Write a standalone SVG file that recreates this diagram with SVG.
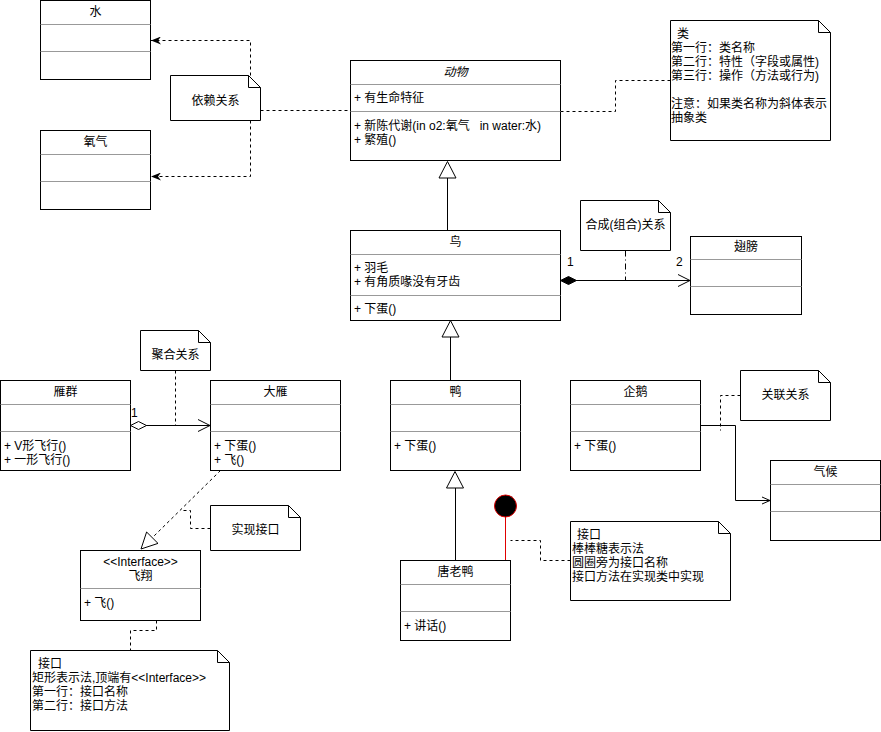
<svg xmlns="http://www.w3.org/2000/svg" width="881" height="732" viewBox="0 0 881 732">
<defs>
<style>
text{font-family:"Liberation Sans","Noto Sans CJK SC",sans-serif;font-size:12px;fill:#000}
.c{text-anchor:middle}
.box{fill:#fff;stroke:#000;stroke-width:1}
.div{stroke:#999;stroke-width:1;fill:none}
.note{fill:#fff;stroke:#000;stroke-width:1}
.fold{fill:none;stroke:#000;stroke-width:1}
.dash{fill:none;stroke:#000;stroke-width:1;stroke-dasharray:3 3}
.solid{fill:none;stroke:#000;stroke-width:1}
.tri{fill:#fff;stroke:#000;stroke-width:1}
</style>
<marker id="dep" viewBox="0 0 10 8" refX="10" refY="4" markerWidth="10" markerHeight="8" markerUnits="userSpaceOnUse" orient="auto">
<path d="M0,0 L10,4 L0,8 L3,4 Z" fill="#000"/>
</marker>
<marker id="open" viewBox="0 0 14 14" refX="13" refY="7" markerWidth="14" markerHeight="14" markerUnits="userSpaceOnUse" orient="auto">
<path d="M1,1 L13,7 L1,13" fill="none" stroke="#000" stroke-width="1"/>
</marker>
<marker id="openS" viewBox="0 0 10 10" refX="9" refY="5" markerWidth="10" markerHeight="10" markerUnits="userSpaceOnUse" orient="auto">
<path d="M1,1.5 L9,5 L1,8.5" fill="none" stroke="#000" stroke-width="1"/>
</marker>
</defs>

<g id="connectors">
<polyline class="dash" points="260.5,110.5 350.5,110.5"/>
<polyline class="dash" points="250.5,75.5 250.5,40.5 151,40.5" marker-end="url(#dep)"/>
<polyline class="dash" points="250.5,120.5 250.5,176.5 151,176.5" marker-end="url(#dep)"/>
<polyline class="dash" points="560.5,111.5 615.5,111.5 615.5,80.5 670.5,80.5"/>
<line class="solid" x1="447.5" y1="230.5" x2="447.5" y2="178"/>
<path class="tri" d="M447.5,161.5 L456,178 L439,178 Z"/>
<line class="solid" x1="576" y1="280.5" x2="690" y2="280.5" marker-end="url(#open)"/>
<path d="M560.5,280.5 L568.5,276.5 L576.5,280.5 L568.5,284.5 Z" fill="#000" stroke="#000"/>
<text x="567" y="266">1</text>
<text x="676" y="266">2</text>
<line class="solid" x1="625.5" y1="250.5" x2="625.5" y2="280.5" stroke-dasharray="6 3 1 3"/>
<line class="solid" x1="450.5" y1="380.5" x2="450.5" y2="337"/>
<path class="tri" d="M450.5,320.5 L459,337 L442,337 Z"/>
<line class="solid" x1="146" y1="425.5" x2="210" y2="425.5" marker-end="url(#open)"/>
<path d="M130.5,425.5 L138.5,421.5 L146.5,425.5 L138.5,429.5 Z" fill="#fff" stroke="#000"/>
<text x="131" y="417">1</text>
<line class="dash" x1="175.5" y1="370.5" x2="175.5" y2="425.5"/>
<polyline class="solid" points="700.5,425.5 735.5,425.5 735.5,500.5 770,500.5" marker-end="url(#openS)"/>
<polyline class="dash" points="740.5,395.5 720.5,395.5 720.5,430.5"/>
<line class="dash" x1="220.5" y1="470.5" x2="152.5" y2="537.5"/>
<path class="tri" d="M141,549 L146.6,532 L158,543.4 Z"/>
<polyline class="dash" points="210.5,528.5 190.5,528.5 190.5,510.5 180.5,510.5"/>
<polyline class="dash" points="156.5,620.5 156.5,630.5 130.5,630.5 130.5,650.5"/>
<line class="solid" x1="455.5" y1="560.5" x2="455.5" y2="488"/>
<path class="tri" d="M455,471.5 L463.5,488 L446.5,488 Z"/>
<line x1="505.5" y1="517" x2="505.5" y2="560.5" stroke="#e00000" stroke-width="1"/>
<polyline class="dash" points="570.5,560.5 540.5,560.5 540.5,540.5 510.5,540.5"/>
</g>

<g id="water">
<rect class="box" x="40.5" y="0.5" width="110" height="79"/>
<line class="div" x1="40.5" y1="24.5" x2="150.5" y2="24.5"/>
<line class="div" x1="40.5" y1="51.5" x2="150.5" y2="51.5"/>
<text class="c" x="95.5" y="16">水</text>
</g>

<g id="oxygen">
<rect class="box" x="40.5" y="130.5" width="110" height="79"/>
<line class="div" x1="40.5" y1="154.5" x2="150.5" y2="154.5"/>
<line class="div" x1="40.5" y1="181.5" x2="150.5" y2="181.5"/>
<text class="c" x="95.5" y="146">氧气</text>
</g>

<g id="note-dependency">
<path class="note" d="M170.5,75.5 H248.5 L260.5,87.5 V120.5 H170.5 Z"/>
<path class="fold" d="M248.5,75.5 V87.5 H260.5"/>
<text class="c" x="215.5" y="105">依赖关系</text>
</g>

<g id="animal">
<rect class="box" x="350.5" y="60.5" width="210" height="100"/>
<line class="div" x1="350.5" y1="84.5" x2="560.5" y2="84.5"/>
<line class="div" x1="350.5" y1="111.5" x2="560.5" y2="111.5"/>
<text class="c" x="455.5" y="76" font-style="italic">动物</text>
<text x="354" y="102">+ 有生命特征</text>
<text x="354" y="130" xml:space="preserve">+ 新陈代谢(in o2:氧气   in water:水)</text>
<text x="354" y="144">+ 繁殖()</text>
</g>

<g id="note-class">
<path class="note" d="M670.5,20.5 H818.5 L830.5,32.5 V140.5 H670.5 Z"/>
<path class="fold" d="M818.5,20.5 V32.5 H830.5"/>
<text x="677" y="38">类</text>
<text x="671" y="52">第一行：类名称</text>
<text x="671" y="66">第二行：特性（字段或属性)</text>
<text x="671" y="80">第三行：操作（方法或行为)</text>
<text x="671" y="108">注意：如果类名称为斜体表示</text>
<text x="671" y="122">抽象类</text>
</g>

<g id="bird">
<rect class="box" x="350.5" y="230.5" width="210" height="90"/>
<line class="div" x1="350.5" y1="254.5" x2="560.5" y2="254.5"/>
<line class="div" x1="350.5" y1="295.5" x2="560.5" y2="295.5"/>
<text class="c" x="455.5" y="246">鸟</text>
<text x="354" y="272">+ 羽毛</text>
<text x="354" y="286">+ 有角质喙没有牙齿</text>
<text x="354" y="313">+ 下蛋()</text>
</g>

<g id="note-composition">
<path class="note" d="M580.5,200.5 H658.5 L670.5,212.5 V250.5 H580.5 Z"/>
<path class="fold" d="M658.5,200.5 V212.5 H670.5"/>
<text class="c" x="625.5" y="229">合成(组合)关系</text>
</g>

<g id="wings">
<rect class="box" x="690.5" y="236.5" width="111" height="78"/>
<line class="div" x1="690.5" y1="259.5" x2="801.5" y2="259.5"/>
<line class="div" x1="690.5" y1="286.5" x2="801.5" y2="286.5"/>
<text class="c" x="746" y="251">翅膀</text>
</g>

<g id="note-aggregation">
<path class="note" d="M140.5,330.5 H198.5 L210.5,342.5 V370.5 H140.5 Z"/>
<path class="fold" d="M198.5,330.5 V342.5 H210.5"/>
<text class="c" x="175.5" y="359">聚合关系</text>
</g>

<g id="goose-flock">
<rect class="box" x="0.5" y="380.5" width="130" height="90"/>
<line class="div" x1="0.5" y1="404.5" x2="130.5" y2="404.5"/>
<line class="div" x1="0.5" y1="431.5" x2="130.5" y2="431.5"/>
<text class="c" x="65.5" y="396">雁群</text>
<text x="4" y="450">+ V形飞行()</text>
<text x="4" y="464">+ 一形飞行()</text>
</g>

<g id="goose">
<rect class="box" x="210.5" y="380.5" width="130" height="90"/>
<line class="div" x1="210.5" y1="404.5" x2="340.5" y2="404.5"/>
<line class="div" x1="210.5" y1="431.5" x2="340.5" y2="431.5"/>
<text class="c" x="275.5" y="396">大雁</text>
<text x="214" y="450">+ 下蛋()</text>
<text x="214" y="464">+ 飞()</text>
</g>

<g id="duck">
<rect class="box" x="390.5" y="380.5" width="130" height="90"/>
<line class="div" x1="390.5" y1="404.5" x2="520.5" y2="404.5"/>
<line class="div" x1="390.5" y1="431.5" x2="520.5" y2="431.5"/>
<text class="c" x="455.5" y="396">鸭</text>
<text x="394" y="450">+ 下蛋()</text>
</g>

<g id="penguin">
<rect class="box" x="570.5" y="380.5" width="130" height="90"/>
<line class="div" x1="570.5" y1="404.5" x2="700.5" y2="404.5"/>
<line class="div" x1="570.5" y1="431.5" x2="700.5" y2="431.5"/>
<text class="c" x="635.5" y="396">企鹅</text>
<text x="574" y="450">+ 下蛋()</text>
</g>

<g id="note-association">
<path class="note" d="M740.5,370.5 H818.5 L830.5,382.5 V420.5 H740.5 Z"/>
<path class="fold" d="M818.5,370.5 V382.5 H830.5"/>
<text class="c" x="785.5" y="399">关联关系</text>
</g>

<g id="climate">
<rect class="box" x="770.5" y="460.5" width="110" height="80"/>
<line class="div" x1="770.5" y1="484.5" x2="880.5" y2="484.5"/>
<line class="div" x1="770.5" y1="511.5" x2="880.5" y2="511.5"/>
<text class="c" x="825.5" y="476">气候</text>
</g>

<g id="note-realization">
<path class="note" d="M210.5,505.5 H288.5 L300.5,517.5 V550.5 H210.5 Z"/>
<path class="fold" d="M288.5,505.5 V517.5 H300.5"/>
<text class="c" x="255.5" y="534">实现接口</text>
</g>

<g id="interface-fly">
<rect class="box" x="80.5" y="550.5" width="120" height="70"/>
<line class="div" x1="80.5" y1="588.5" x2="200.5" y2="588.5"/>
<text class="c" x="140.5" y="566">&lt;&lt;Interface&gt;&gt;</text>
<text class="c" x="140.5" y="580">飞翔</text>
<text x="84" y="607">+ 飞()</text>
</g>

<g id="note-interface">
<path class="note" d="M30.5,650.5 H217.5 L229.5,662.5 V730.5 H30.5 Z"/>
<path class="fold" d="M217.5,650.5 V662.5 H229.5"/>
<text x="38" y="668">接口</text>
<text x="32" y="682">矩形表示法,顶端有&lt;&lt;Interface&gt;&gt;</text>
<text x="32" y="696">第一行：接口名称</text>
<text x="32" y="710">第二行：接口方法</text>
</g>

<g id="lollipop">
<circle cx="505.5" cy="506" r="11" fill="#000" stroke="#e00000" stroke-width="1"/>
</g>

<g id="tang-duck">
<rect class="box" x="400.5" y="560.5" width="110" height="80"/>
<line class="div" x1="400.5" y1="584.5" x2="510.5" y2="584.5"/>
<line class="div" x1="400.5" y1="611.5" x2="510.5" y2="611.5"/>
<text class="c" x="455.5" y="576">唐老鸭</text>
<text x="404" y="630">+ 讲话()</text>
</g>

<g id="note-lollipop">
<path class="note" d="M570.5,521.5 H718.5 L730.5,533.5 V600.5 H570.5 Z"/>
<path class="fold" d="M718.5,521.5 V533.5 H730.5"/>
<text x="577" y="539">接口</text>
<text x="572" y="553">棒棒糖表示法</text>
<text x="572" y="567">圆圈旁为接口名称</text>
<text x="572" y="581">接口方法在实现类中实现</text>
</g>
</svg>
